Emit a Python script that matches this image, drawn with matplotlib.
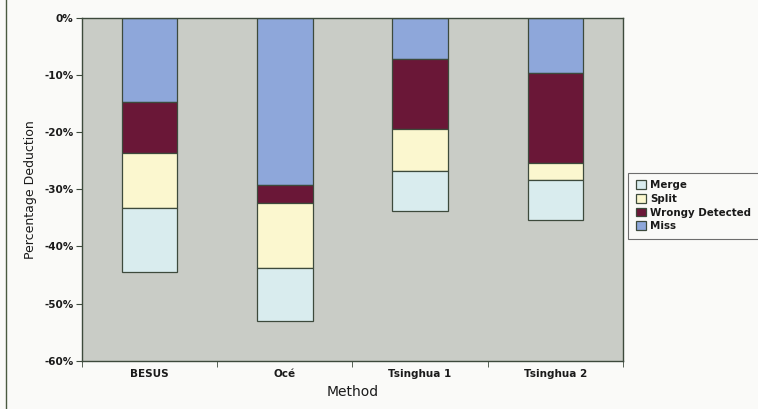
import matplotlib
matplotlib.use("Agg")
import matplotlib.pyplot as plt
from matplotlib.lines import Line2D
from matplotlib.ticker import FuncFormatter, MultipleLocator
import numpy as np

methods = ["BESUS", "Océ", "Tsinghua 1", "Tsinghua 2"]
miss = [14.7, 29.3, 7.2, 9.6]
wrongly = [8.9, 3.0, 12.2, 15.8]
split = [9.7, 11.4, 7.4, 3.0]
merge = [11.2, 9.3, 6.9, 7.0]

series = [
    ("Miss", miss, "#8ea7da"),
    ("Wrongy Detected", wrongly, "#6a1737"),
    ("Split", split, "#fbf7cf"),
    ("Merge", merge, "#d9ecee"),
]

fig = plt.figure(figsize=(7.58, 4.09), dpi=100, facecolor="#fafaf8")
ax = fig.add_axes([0.108, 0.118, 0.714, 0.838])
ax.set_facecolor("#c9ccc6")

x = np.arange(len(methods))
bottom = np.zeros(len(methods))
handles = {}
for name, vals, color in series:
    vals = -np.array(vals)
    bars = ax.bar(x, vals, width=0.41, bottom=bottom, color=color,
                  edgecolor="#3d4a3c", linewidth=0.9, label=name)
    handles[name] = bars
    bottom += vals

ax.set_xlim(-0.5, 3.5)
ax.set_ylim(-60, 0)
ax.yaxis.set_major_locator(MultipleLocator(10))
ax.yaxis.set_major_formatter(FuncFormatter(lambda v, p: f"{v:.0f}%"))
ax.set_xticks(x)
ax.set_xticklabels(methods)
ax.set_xticks(np.arange(-0.5, 4.0, 1.0), minor=True)
ax.tick_params(axis="x", which="major", length=0, pad=6)
ax.tick_params(axis="x", which="minor", length=4, color="#3d4a3c")
ax.tick_params(axis="y", length=4, color="#3d4a3c", pad=2)
for lab in ax.get_xticklabels() + ax.get_yticklabels():
    lab.set_fontsize(7.5)
    lab.set_fontweight("bold")
    lab.set_color("#1a1a1a")

for s in ax.spines.values():
    s.set_color("#3d4a3c")
    s.set_linewidth(1.0)

ax.set_ylabel("Percentage Deduction", fontsize=9, color="#1a1a1a", labelpad=5)
ax.set_xlabel("Method", fontsize=10, color="#1a1a1a", labelpad=4)

order = ["Merge", "Split", "Wrongy Detected", "Miss"]
leg = fig.legend([handles[n] for n in order], order,
                 loc="upper left", bbox_to_anchor=(0.829, 0.578),
                 fontsize=7.4, frameon=True, fancybox=False,
                 handlelength=0.95, handleheight=0.95, handletextpad=0.45,
                 labelspacing=0.35, borderpad=0.75, borderaxespad=0)
leg.get_frame().set_edgecolor("#4a4a4a")
leg.get_frame().set_linewidth(0.8)
leg.get_frame().set_facecolor("#fafaf8")
for t in leg.get_texts():
    t.set_fontweight("bold")
    t.set_color("#1a1a1a")

fig.add_artist(Line2D([0.008, 0.008], [0.0, 1.0], transform=fig.transFigure,
                      color="#4a5a40", linewidth=1.0))

fig.savefig("out.png", dpi=100, facecolor=fig.get_facecolor())
